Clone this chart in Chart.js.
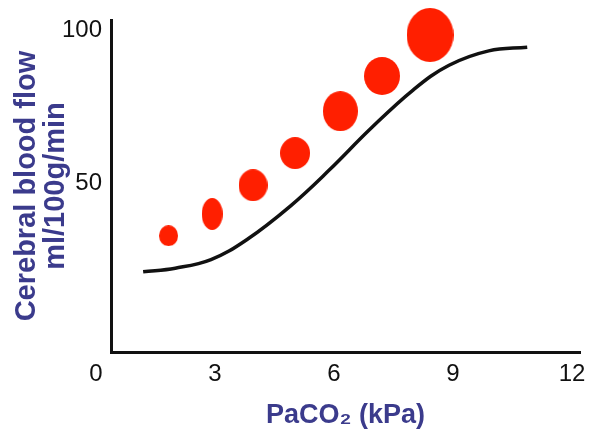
<!DOCTYPE html>
<html>
<head>
<meta charset="utf-8">
<script src="https://cdn.jsdelivr.net/npm/chart.js@4.4.0/dist/chart.umd.min.js"></script>
<style>
  html, body { margin: 0; padding: 0; background: #ffffff; }
  #c { display: block; }
</style>
</head>
<body>
<canvas id="c" width="591" height="431"></canvas>
<script>
// ---- data ----
const xTickValues = [0, 3, 6, 9, 12];
const yTickValues = [50, 100];

const curveX = [1.19, 2.0, 2.9, 3.8, 4.9, 5.9, 6.9, 8.0, 8.9, 9.9, 10.87];
const curveY = [21.0, 22.2, 25.0, 31.5, 42.5, 54.5, 67.5, 80.5, 88.5, 93.2, 94.4];

const dotX = [1.83, 2.93, 3.96, 5.02, 6.16, 7.21, 8.42];
const dotY = [32.8, 39.9, 49.3, 59.8, 73.5, 85.0, 98.4];

// ---- styles ----
const dotW = [19, 21, 29, 30, 35, 36, 47];
const dotH = [21, 32, 32, 32, 40, 38, 54];
const DOT_COLOR = '#ff1f00';
const TITLE_COLOR = '#3b3b8c';

function ellipseImg(w, h) {
  const c = document.createElement('canvas');
  c.width = w; c.height = h;
  const g = c.getContext('2d');
  g.fillStyle = DOT_COLOR;
  g.beginPath();
  g.ellipse(w / 2, h / 2, w / 2, h / 2, 0, 0, Math.PI * 2);
  g.fill();
  return c;
}

const curveData = curveX.map((x, i) => ({ x: x, y: curveY[i] }));
const dotData = dotX.map((x, i) => ({ x: x, y: dotY[i] }));
const dotStyles = dotW.map((w, i) => ellipseImg(w, dotH[i]));
const dotRadii = dotW.map((w, i) => Math.max(w, dotH[i]) / 2);

new Chart(document.getElementById('c'), {
  type: 'scatter',
  data: {
    datasets: [
      {
        label: 'curve',
        data: curveData,
        showLine: true,
        borderColor: '#111111',
        borderWidth: 3.5,
        tension: 0.4,
        pointRadius: 0,
        clip: false
      },
      {
        label: 'dots',
        data: dotData,
        showLine: false,
        pointStyle: dotStyles,
        pointRadius: dotRadii,
        backgroundColor: DOT_COLOR,
        borderWidth: 0,
        clip: false
      }
    ]
  },
  options: {
    responsive: false,
    animation: false,
    events: [],
    layout: { autoPadding: false, padding: { top: 20, right: 11, bottom: 0, left: 0 } },
    plugins: { legend: { display: false }, tooltip: { enabled: false } },
    scales: {
      x: {
        type: 'linear',
        min: 0.38,
        max: 12.2,
        afterBuildTicks: s => { s.ticks = xTickValues.map(v => ({ value: v })); },
        afterFit: s => { s.height = 79; s.paddingLeft = 0; s.paddingRight = 0; },
        grid: { display: false, drawTicks: false },
        border: { display: true, color: '#111111', width: 3 },
        ticks: {
          autoSkip: false,
          maxRotation: 0,
          padding: 8,
          color: '#111111',
          font: { family: "'Liberation Sans', Arial, sans-serif", size: 24 }
        },
        title: {
          display: true,
          text: 'PaCO\u2082 (kPa)',
          color: TITLE_COLOR,
          padding: { top: 0, bottom: 1 },
          font: { family: "'Liberation Sans', Arial, sans-serif", size: 27, weight: 'bold', lineHeight: 1.1 }
        }
      },
      y: {
        type: 'linear',
        min: -5.2,
        max: 103.3,
        afterBuildTicks: s => { s.ticks = yTickValues.map(v => ({ value: v })); },
        afterFit: s => { s.width = 111; s.paddingTop = 0; s.paddingBottom = 0; },
        grid: { display: false, drawTicks: false },
        border: { display: true, color: '#111111', width: 3 },
        ticks: {
          autoSkip: false,
          padding: 9,
          color: '#111111',
          font: { family: "'Liberation Sans', Arial, sans-serif", size: 24 }
        },
        title: {
          display: true,
          text: ['Cerebral blood flow', 'ml/100g/min'],
          color: TITLE_COLOR,
          padding: { top: 12, bottom: 0 },
          font: { family: "'Liberation Sans', Arial, sans-serif", size: 29, weight: 'bold', lineHeight: 1.0 }
        }
      }
    }
  }
});
</script>
</body>
</html>
